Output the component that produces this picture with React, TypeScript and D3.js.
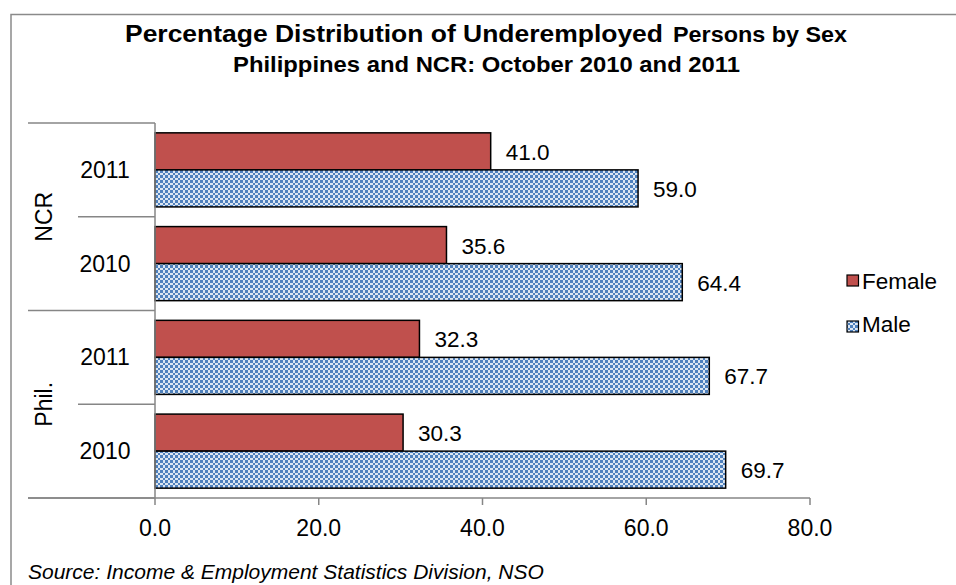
import React from "react";
import * as d3 from "d3";

const rows = ["NCR|2011", "NCR|2010", "Phil.|2011", "Phil.|2010"];
const years = ["2011", "2010", "2011", "2010"];
const groups = ["NCR", "Phil."];
const female = [41.0, 35.6, 32.3, 30.3];
const male = [59.0, 64.4, 67.7, 69.7];
const xTicks = [0, 20, 40, 60, 80];
const seriesNames = ["Female", "Male"];

const W = 956;
const H = 585;
const FONT = "'Liberation Sans', Arial, sans-serif";
const GRAY = "#868686";

export default function App() {
  const x = d3.scaleLinear().domain([0, 80]).range([155, 810]);
  const y = d3.scaleBand<string>().domain(rows).range([123, 498]).paddingInner(0.21).paddingOuter(0.105);
  const sub = d3.scaleBand<string>().domain(seriesNames).range([0, y.bandwidth()]);
  const step = y.step();
  const top = 123;
  const bottom = 498;
  const groupBounds = [top, top + 2 * step, bottom];

  const values = [female, male];

  return (
    <svg width={W} height={H} style={{ position: "absolute", left: 0, top: 0, background: "#fff" }} fontFamily={FONT}>
      <defs>
        <pattern id="chk" width={5} height={5} patternUnits="userSpaceOnUse">
          <rect width={5} height={5} fill="#ffffff" />
          <rect x={0} y={0} width={3} height={3} fill="#4F81BD" />
          <rect x={3} y={3} width={2} height={2} fill="#4F81BD" />
          <rect x={3} y={0} width={2} height={3} fill="#DCE6F2" />
          <rect x={0} y={3} width={3} height={2} fill="#DCE6F2" />
        </pattern>
      </defs>
      <rect x={0} y={0} width={W} height={H} fill="#fff" />
      <rect x={11} y={14.5} width={980} height={620} fill="none" stroke="#8a8a8a" strokeWidth={1.5} />

      {/* Title */}
      <text x={125} y={42} fontSize={24} fontWeight="bold" textLength={538} lengthAdjust="spacingAndGlyphs">
        Percentage Distribution of Underemployed
      </text>
      <text x={673} y={42} fontSize={21.5} fontWeight="bold" textLength={174} lengthAdjust="spacingAndGlyphs">
        Persons by Sex
      </text>
      <text x={233} y={71.5} fontSize={22} fontWeight="bold" textLength={507} lengthAdjust="spacingAndGlyphs">
        Philippines and NCR: October 2010 and 2011
      </text>

      {/* Bars */}
      {rows.map((r, i) =>
        seriesNames.map((s, j) => {
          const v = values[j][i];
          const by = (y(r) as number) + (sub(s) as number);
          const bh = sub.bandwidth();
          return (
            <g key={r + s}>
              <rect
                x={x(0)}
                y={by}
                width={x(v) - x(0)}
                height={bh}
                fill={j === 0 ? "#C0504D" : "url(#chk)"}
                stroke="#000"
                strokeWidth={1.5}
              />
              <text x={x(v) + 15} y={by + bh / 2 + 8.5} fontSize={22.5}>
                {v.toFixed(1)}
              </text>
            </g>
          );
        })
      )}

      {/* Y axis line */}
      <line x1={x(0)} x2={x(0)} y1={top} y2={bottom} stroke={GRAY} strokeWidth={1.5} />
      {/* group separators */}
      {groupBounds.map((gy, i) => (
        <line key={"g" + i} x1={28} x2={x(0)} y1={gy} y2={gy} stroke={GRAY} strokeWidth={1.5} />
      ))}
      {/* year separators */}
      {[top + step, top + 3 * step].map((sy, i) => (
        <line key={"s" + i} x1={78} x2={x(0)} y1={sy} y2={sy} stroke={GRAY} strokeWidth={1.5} />
      ))}
      {/* X axis */}
      <line x1={28} x2={x(80)} y1={bottom} y2={bottom} stroke={GRAY} strokeWidth={1.5} />
      {xTicks.map((t) => (
        <g key={"t" + t}>
          <line x1={x(t)} x2={x(t)} y1={bottom} y2={bottom + 7} stroke={GRAY} strokeWidth={1.5} />
          <text x={x(t)} y={536} fontSize={23} textAnchor="middle">
            {t.toFixed(1)}
          </text>
        </g>
      ))}

      {/* Category labels */}
      {rows.map((r, i) => (
        <text key={"y" + i} x={105} y={(y(r) as number) - y.step() * y.paddingOuter() + step / 2 + 8} fontSize={23} textAnchor="middle">
          {years[i]}
        </text>
      ))}
      {groups.map((g, i) => {
        const cy = (groupBounds[i] + groupBounds[i + 1]) / 2;
        return (
          <text key={"gr" + i} transform={`translate(51.5,${cy}) rotate(-90)`} fontSize={23} textAnchor="middle">
            {g}
          </text>
        );
      })}

      {/* Legend */}
      <rect x={847} y={275} width={11.5} height={11} fill="#C0504D" stroke="#000" strokeWidth={1.2} />
      <text x={862} y={288.5} fontSize={22.5}>
        {seriesNames[0]}
      </text>
      <rect x={847} y={321} width={11.5} height={11} fill="url(#chk)" stroke="#000" strokeWidth={1.2} />
      <text x={862} y={332} fontSize={22.5}>
        {seriesNames[1]}
      </text>

      {/* Source */}
      <text x={28} y={579} fontSize={21} fontStyle="italic">
        Source: Income &amp; Employment Statistics Division, NSO
      </text>
    </svg>
  );
}
